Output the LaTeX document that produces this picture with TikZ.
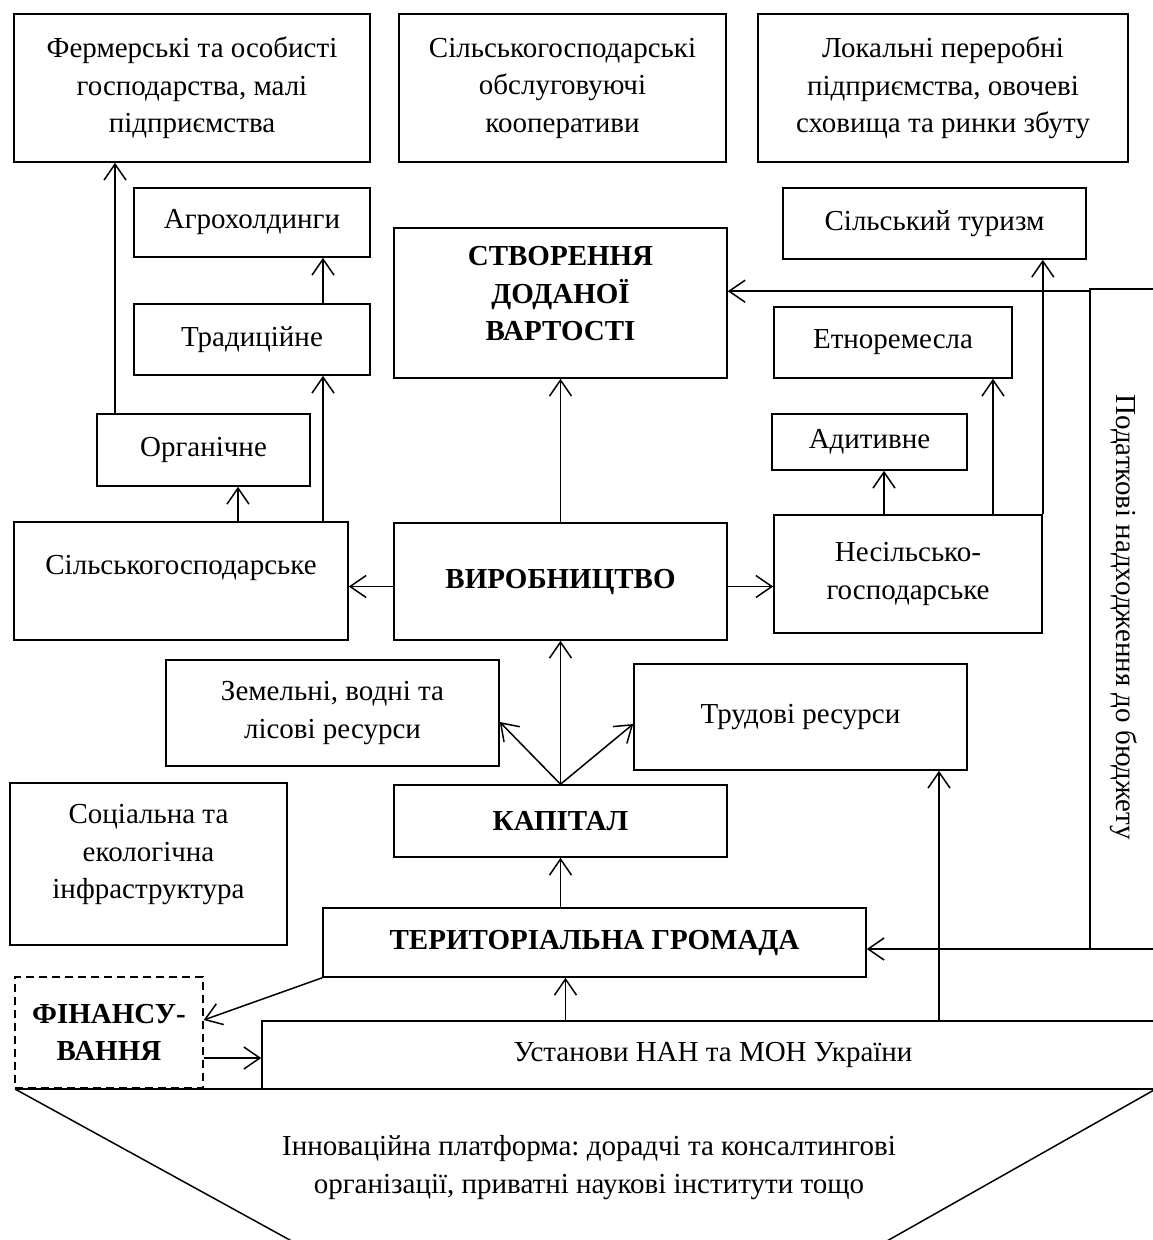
\documentclass[tikz,border=0pt]{standalone}
\usepackage{fontspec}
\setmainfont{Liberation Serif}
\usetikzlibrary{arrows.meta,calc}
\frenchspacing
\begin{document}
\begin{tikzpicture}[x=1pt,y=-1pt,
  txt/.style={align=center, font=\fontsize{29}{37.5}\selectfont},
  btxt/.style={align=center, font=\fontsize{29}{37.5}\selectfont\bfseries},
  box/.style={draw, line width=1.6pt, inner sep=0pt, txt},
  bbox/.style={draw, line width=1.6pt, inner sep=0pt, btxt},
  sz/.style 2 args={minimum width=#1pt, minimum height=#2pt},
  arr/.style={line width=1.5pt, -{Straight Barb[length=16pt,width=22pt]}},
  ln/.style={line width=1.5pt},
  dashbox/.style={draw, line width=1.4pt, dash pattern=on 8pt off 5pt, inner sep=0pt, btxt}]
\useasboundingbox (0,0) rectangle (1152,1240);

% top row
\node[box, sz={356}{148}] (farm) at (192,88) {Фермерські та особисті\\господарства, малі\\підприємства};
\node[box, sz={327}{148}] (coop) at (562.5,88) {Сільськогосподарські\\обслуговуючі\\кооперативи};
\node[box, sz={370}{148}] (local) at (943,88) {Локальні переробні\\підприємства, овочеві\\сховища та ринки збуту};

% left branch
\node[box, sz={236}{69}] (agro) at (252,222.5) {Агрохолдинги};
\node[box, sz={236}{71}] (trad) at (252,339.5) {Традиційне};
\node[box, sz={213}{72}] (org) at (203.5,450) {Органічне};
\node[box, sz={334}{118}, text depth=32pt] (silg) at (181,581) {Сільськогосподарське};

% centre
\node[bbox, sz={333}{150}, label={[btxt, name=stvort, yshift=9pt]center:{СТВОРЕННЯ\\ДОДАНОЇ\\ВАРТОСТІ}}] (stvor) at (560.5,303) {};
\node[bbox, sz={333}{117}] (vyr) at (560.5,581.5) {ВИРОБНИЦТВО};

% right branch
\node[box, sz={303}{71}] (tour) at (934.5,223.5) {Сільський туризм};
\node[box, sz={238}{71}] (etno) at (893,342.5) {Етноремесла};
\node[box, sz={195}{56}] (adyt) at (869.5,442) {Адитивне};
\node[box, sz={268}{118}] (nesil) at (908,574) {Несільсько-\\господарське};

% resources
\node[box, sz={333}{106}] (zem) at (332.5,713) {Земельні, водні та\\лісові ресурси};
\node[box, sz={333}{106}] (trud) at (800.5,717) {Трудові ресурси};
\node[bbox, sz={333}{72}] (kap) at (560.5,821) {КАПІТАЛ};
\node[box, sz={277}{162}, label={[txt, name=soct, yshift=9pt]center:{Соціальна та\\екологічна\\інфраструктура}}] (soc) at (148.5,864) {};

% lower part
\node[bbox, sz={543}{69}] (ter) at (594.5,942.5) {ТЕРИТОРІАЛЬНА ГРОМАДА};
\node[dashbox, sz={188}{111}] (fin) at (109,1032.5) {ФІНАНСУ-\\ВАННЯ};
\node[box, sz={902}{68}] (ust) at (713,1055) {Установи НАН та МОН України};

% tax strip
\node[draw, line width=1.6pt, sz={68}{660}, inner sep=0pt,
      label={[txt, name=taxt, rotate=-90, xshift=-2pt]center:{Податкові надходження до бюджету}}] (tax) at (1124,619) {};
\coordinate (taxin) at (1160,949);

% innovation platform funnel
\draw[ln] (15,1089) -- (1165,1089);
\draw[ln] (15,1089) -- (308,1250);
\draw[ln] (1154,1090) -- (871,1250);
\node[txt] (innov) at (589,1167.5) {Інноваційна платформа: дорадчі та консалтингові\\організації, приватні наукові інститути тощо};

% connectors: left branch
\coordinate (o1) at ([xshift=-88.5pt]org.north);
\draw[arr] (o1) -- (o1 |- farm.south);
\draw[arr] ([xshift=71pt]trad.north) -- ([xshift=71pt]agro.south);
\draw[arr] ([xshift=142pt]silg.north) -- ([xshift=71pt]trad.south);
\draw[arr] ([xshift=57pt]silg.north) -- ([xshift=34.5pt]org.south);

% centre
\draw[arr] (vyr.north) -- (stvor.south);
\draw[arr] ([yshift=-5pt]vyr.west) -- ([yshift=-5pt]vyr.west -| silg.east);
\draw[arr] ([yshift=-5pt]vyr.east) -- ([yshift=-5pt]vyr.east -| nesil.west);

% right branch
\coordinate (a1) at ([xshift=14.5pt]adyt.south);
\draw[arr] (a1 |- nesil.north) -- (a1);
\coordinate (a2) at ([xshift=100pt]etno.south);
\draw[arr] (a2 |- nesil.north) -- (a2);
\draw[arr] (nesil.north east) -- (nesil.north east |- tour.south);
\draw[arr] ([yshift=-3pt]tax.north west) -- ([yshift=-3pt]tax.north west -| stvor.east);
\draw[arr] (taxin) -- (taxin -| ter.east);

% capital
\draw[arr] (kap.north) -- (vyr.south);
\draw[arr] (kap.north) -- ([yshift=-9pt]zem.east);
\draw[arr] (kap.north) -- ([yshift=-7pt]trud.west);
\draw[arr] (kap.south |- ter.north) -- (kap.south);
\draw[arr] ([xshift=5pt]kap.south |- ust.north) -- ([xshift=5pt]kap.south |- ter.south);
\coordinate (a3) at ([xshift=138.5pt]trud.south);
\draw[arr] (a3 |- ust.north) -- (a3);

% financing
\draw[arr] (ter.south west) -- ([yshift=12.5pt]fin.east);
\draw[arr] ([yshift=-25.5pt]fin.east) -- ([yshift=-25.5pt]fin.east -| ust.west);
\end{tikzpicture}
\end{document}
